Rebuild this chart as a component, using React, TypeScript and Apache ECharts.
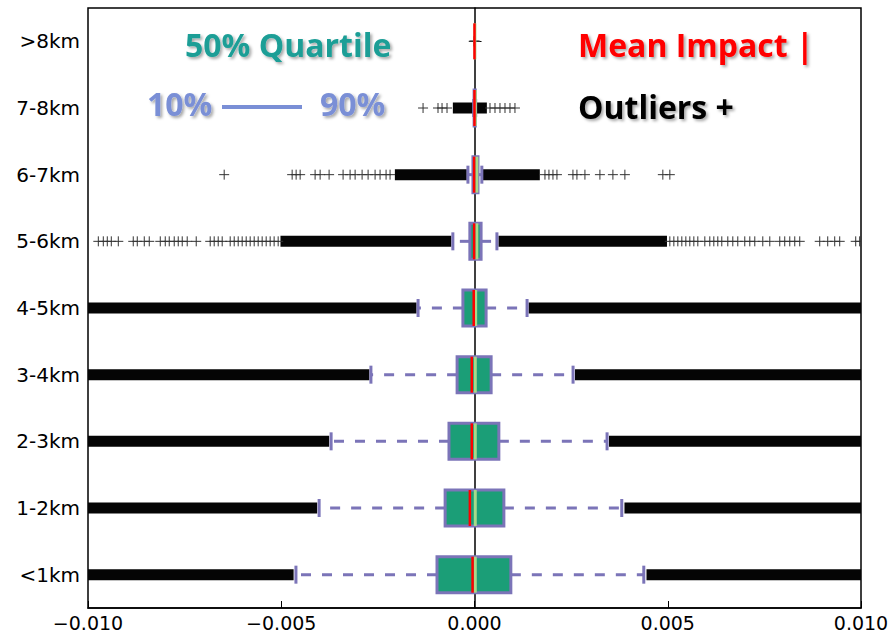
import React, { useEffect, useRef } from 'react';
import * as echarts from 'echarts';

const categories = ['<1km', '1-2km', '2-3km', '3-4km', '4-5km', '5-6km', '6-7km', '7-8km', '>8km'];
const whiskerLow = [-0.00462, -0.00402, -0.00371, -0.00268, -0.00146, -0.00056, -0.00017, -0.00002, 0];
const q1 = [-0.00097, -0.00076, -0.00066, -0.00045, -0.0003, -0.00012, -0.00004, -0.00001, 0];
const medians = [0.00002, 0.00002, 0.00002, 0.00002, 0.00003, 0.00006, 0.00006, 0.00002, 0.00001];
const q3 = [0.00094, 0.00076, 0.00063, 0.00043, 0.0003, 0.00017, 0.00009, 0.00002, 0];
const whiskerHigh = [0.00438, 0.00381, 0.00343, 0.00255, 0.00136, 0.00058, 0.00019, 0.00003, 0];
const means = [-0.00005, -0.00012, -0.00007, -0.00007, -0.00002, -0.00001, -0.00001, 0, 0];

// dense runs of outliers, [from, to] per category (null = none)
const outlierBandsLow: ([number, number] | null)[] = [
  [-0.01, -0.00468], [-0.01, -0.00407], [-0.01, -0.00376], [-0.01, -0.00272], [-0.01, -0.0015],
  [-0.00502, -0.0006], [-0.00206, -0.0002], [-0.00056, 0.00032], null,
];
const outlierBandsHigh: ([number, number] | null)[] = [
  [0.00445, 0.01], [0.00388, 0.01], [0.00348, 0.01], [0.0026, 0.01], [0.0014, 0.01],
  [0.00062, 0.00498], [0.00022, 0.00169], null, null,
];

// individually visible outliers
const outliers5to6 = [
  -0.009733, -0.009604, -0.009501, -0.009397, -0.009216, -0.008829, -0.008725, -0.008544, -0.008415,
  -0.00813, -0.008001, -0.007898, -0.007769, -0.007665, -0.007562, -0.007433, -0.0072, -0.006838,
  -0.006735, -0.006631, -0.006528, -0.006321, -0.006217, -0.006114, -0.006011, -0.005907, -0.005804,
  -0.0057, -0.005597, -0.005494, -0.00539, -0.005287, -0.005184, -0.00508,
  0.005054, 0.005158, 0.005261, 0.005364, 0.005468, 0.005571, 0.005675, 0.005778, 0.005959, 0.006088,
  0.006192, 0.006295, 0.006398, 0.006554, 0.006683, 0.006812, 0.006993, 0.007123, 0.007252, 0.007459,
  0.00764, 0.007898, 0.008027, 0.008157, 0.008286, 0.008415, 0.008932, 0.009139, 0.00932, 0.009449,
  0.009863, 0.009966,
];
const outliers6to7 = [
  -0.006476, -0.004718, -0.004615, -0.004511, -0.004124, -0.003994, -0.003762, -0.0034, -0.003219,
  -0.003089, -0.002908, -0.002753, -0.002572, -0.002443, -0.002288, -0.002185,
  0.001823, 0.001926, 0.00203, 0.002133, 0.002547, 0.00265, 0.002857, 0.003245, 0.003581, 0.003891,
  0.004873, 0.005054,
];
const outliers7to8 = [
  -0.001331, -0.000944, -0.00084, -0.000711, 0.000401, 0.00053, 0.000659, 0.000789, 0.000918, 0.001047,
];
const outliersOver8 = [-0.00002, -0.00001, 0, 0.00001, 0.00002];

const xTicks = [-0.01, -0.005, 0, 0.005, 0.01];

const PURPLE = '#7b74b8';
const GREEN = '#1b9e77';
const MEDIAN = '#a8d98a';

export default function App() {
  const ref = useRef<HTMLDivElement>(null);
  useEffect(() => {
    if (!ref.current) return;
    const chart = echarts.init(ref.current, null, { renderer: 'svg' });

    const boxData = categories.map((_, i) => [i, whiskerLow[i], q1[i], medians[i], q3[i], whiskerHigh[i], means[i]]);
    const bandData: number[][] = [];
    categories.forEach((_, i) => {
      const a = outlierBandsLow[i];
      const b = outlierBandsHigh[i];
      if (a) bandData.push([i, a[0], a[1]]);
      if (b) bandData.push([i, b[0], b[1]]);
    });
    const sparseData: number[][] = [
      ...outliers5to6.map((v) => [5, v]),
      ...outliers6to7.map((v) => [6, v]),
      ...outliers7to8.map((v) => [7, v]),
      ...outliersOver8.map((v) => [8, v]),
    ];

    const shadow = { textShadowColor: 'rgba(0,0,0,0.35)', textShadowBlur: 3, textShadowOffsetX: 2, textShadowOffsetY: 2 };
    const font = (s: number) => `bold ${s}px "Open Sans"`;

    chart.setOption({
      animation: false,
      grid: { left: 88, right: 31, top: 8, bottom: 27, show: true, borderColor: '#000', borderWidth: 1.5 },
      xAxis: {
        type: 'value',
        min: xTicks[0],
        max: xTicks[xTicks.length - 1],
        interval: 0.005,
        splitLine: { show: false },
        axisLine: { show: true, lineStyle: { color: '#000', width: 1.5 } },
        axisTick: { show: true, inside: true, length: 7, lineStyle: { color: '#000' } },
        axisLabel: {
          color: '#000',
          fontFamily: 'DejaVu Sans',
          fontSize: 19,
          margin: 5,
          formatter: (v: number) => (v < 0 ? '\u2212' : '') + Math.abs(v).toFixed(3),
        },
      },
      yAxis: {
        type: 'category',
        data: categories,
        axisLine: { show: true, lineStyle: { color: '#000', width: 1.5 } },
        axisTick: { show: true, inside: true, length: 7, alignWithLabel: true, lineStyle: { color: '#000' } },
        axisLabel: { color: '#000', fontFamily: 'DejaVu Sans', fontSize: 20, margin: 8 },
        splitLine: { show: false },
      },
      series: [
        {
          type: 'custom',
          clip: true,
          data: bandData,
          encode: { x: [1, 2], y: 0 },
          renderItem: (params: any, api: any) => {
            const c = api.value(0);
            const p1 = api.coord([api.value(1), c]);
            const p2 = api.coord([api.value(2), c]);
            const h = 11;
            return {
              type: 'group',
              children: [
                { type: 'rect', shape: { x: p1[0], y: p1[1] - h / 2, width: p2[0] - p1[0], height: h }, style: { fill: '#050505' } },
              ],
            };
          },
        },
        {
          type: 'custom',
          clip: true,
          data: sparseData,
          encode: { x: 1, y: 0 },
          renderItem: (params: any, api: any) => {
            const p = api.coord([api.value(1), api.value(0)]);
            const s = 5;
            const st = { stroke: '#333', lineWidth: 1 };
            return {
              type: 'group',
              children: [
                { type: 'line', shape: { x1: p[0] - s, y1: p[1], x2: p[0] + s, y2: p[1] }, style: st },
                { type: 'line', shape: { x1: p[0], y1: p[1] - s, x2: p[0], y2: p[1] + s }, style: st },
              ],
            };
          },
        },
        {
          type: 'custom',
          clip: true,
          data: boxData,
          encode: { x: [1, 2, 3, 4, 5, 6], y: 0 },
          renderItem: (params: any, api: any) => {
            const c = api.value(0);
            const band = api.size([0, 1])[1];
            const y = api.coord([0, c])[1];
            const x = (i: number) => api.coord([api.value(i), c])[0];
            const wl = x(1), b1 = x(2), md = x(3), b3 = x(4), wh = x(5), mn = x(6);
            const boxH = band * 0.54;
            const capH = band * 0.27;
            const children: any[] = [];
            const dash = { stroke: PURPLE, lineWidth: 3, lineDash: [10, 11] };
            if (b1 - wl > 0.5) children.push({ type: 'line', shape: { x1: b1, y1: y, x2: wl, y2: y }, style: dash });
            if (wh - b3 > 0.5) children.push({ type: 'line', shape: { x1: b3, y1: y, x2: wh, y2: y }, style: dash });
            if (wh - wl > 1) {
              children.push({ type: 'line', shape: { x1: wl, y1: y - capH / 2, x2: wl, y2: y + capH / 2 }, style: { stroke: PURPLE, lineWidth: 3 } });
              children.push({ type: 'line', shape: { x1: wh, y1: y - capH / 2, x2: wh, y2: y + capH / 2 }, style: { stroke: PURPLE, lineWidth: 3 } });
            }
            if (b3 - b1 > 0.5) {
              children.push({ type: 'rect', shape: { x: b1, y: y - boxH / 2, width: b3 - b1, height: boxH }, style: { fill: GREEN, stroke: PURPLE, lineWidth: 3 } });
            }
            children.push({ type: 'line', shape: { x1: md, y1: y - boxH / 2, x2: md, y2: y + boxH / 2 }, style: { stroke: MEDIAN, lineWidth: 3 } });
            children.push({ type: 'line', shape: { x1: mn, y1: y - boxH / 2, x2: mn, y2: y + boxH / 2 }, style: { stroke: '#ff0000', lineWidth: 2.5 } });
            return { type: 'group', children };
          },
        },
      ],
      graphic: [
        { type: 'text', left: 185, top: 28, style: { text: '50% Quartile', font: font(32), fill: '#1b9e96', ...shadow } },
        { type: 'text', left: 147, top: 87, style: { text: '10%', font: font(32), fill: '#7a8fd6', ...shadow } },
        { type: 'line', shape: { x1: 222, y1: 107, x2: 302, y2: 107 }, style: { stroke: '#7a8fd6', lineWidth: 4 } },
        { type: 'text', left: 320, top: 87, style: { text: '90%', font: font(32), fill: '#7a8fd6', ...shadow } },
        { type: 'text', left: 578, top: 28, style: { text: 'Mean Impact |', font: font(32), fill: '#ff0000', ...shadow } },
        { type: 'text', left: 578, top: 90, style: { text: 'Outliers +', font: font(32), fill: '#000', ...shadow } },
      ],
    });
    return () => chart.dispose();
  }, []);
  return <div ref={ref} style={{ position: 'fixed', left: 0, top: 0, width: 892, height: 635, background: '#fff' }} />;
}
